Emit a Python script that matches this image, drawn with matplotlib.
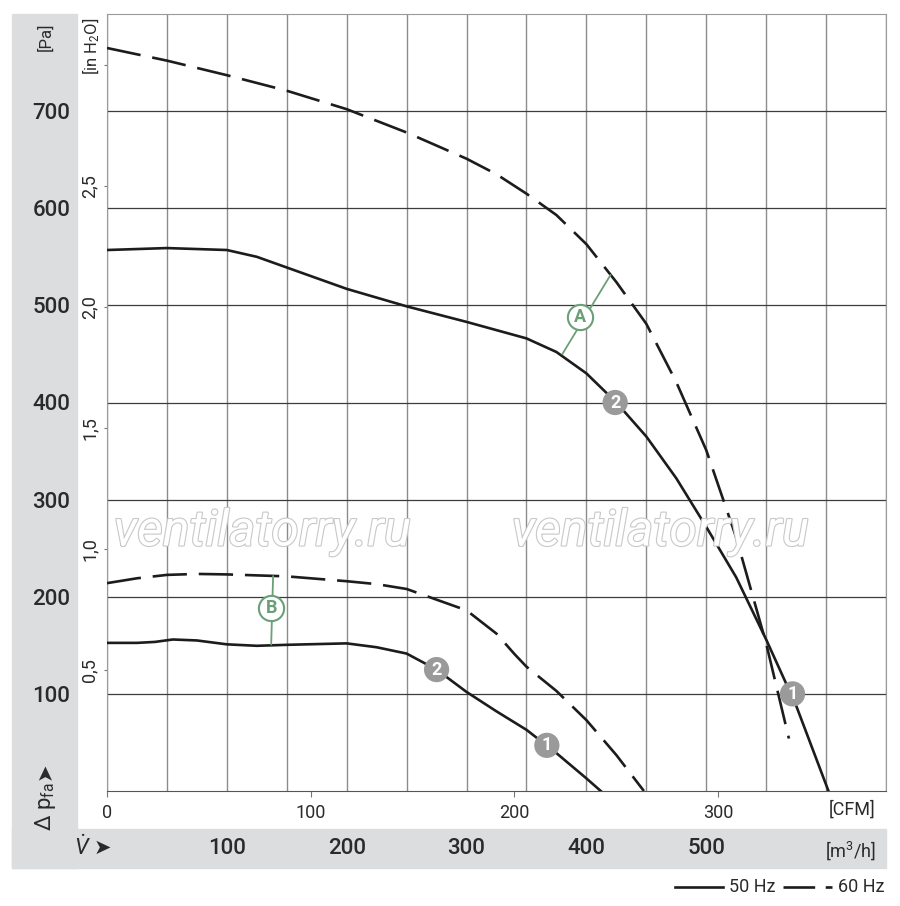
import numpy as np
import matplotlib
matplotlib.use("Agg")
import matplotlib.pyplot as plt
from matplotlib.lines import Line2D
from matplotlib.patches import Rectangle
import matplotlib.patheffects as pe
from matplotlib import font_manager

# --- fan curves: flow [m3/h], pressure [Pa] ---
hi_50_flow = [0, 50, 100, 125, 150, 200, 250, 300, 350, 375, 400, 425, 450, 475, 500, 525, 550, 575, 602]
hi_50_pa = [557, 559, 557, 550, 539, 517, 499, 483, 466, 452, 430, 400, 365, 322, 272, 220, 156, 88, 0]

hi_60_flow = [0, 50, 100, 150, 200, 250, 300, 325, 350, 375, 400, 425, 450, 475, 500, 525, 550, 569]
hi_60_pa = [765, 752, 737, 721, 702, 678, 651, 635, 615, 593, 563, 524, 481, 421, 351, 261, 152, 54]

lo_50_flow = [0, 25, 40, 55, 75, 100, 125, 150, 200, 225, 250, 275, 300, 325, 350, 375, 400, 412]
lo_50_pa = [152.5, 152.5, 153.5, 156, 155, 151, 149.5, 150.5, 152, 148, 141.5, 125, 102, 82, 63, 39, 13, 0]

lo_60_flow = [0, 25, 50, 75, 100, 150, 200, 225, 250, 275, 300, 325, 340, 350, 375, 400, 425, 448]
lo_60_pa = [214, 219, 222.5, 223.5, 223, 221, 216, 213, 208, 197, 186, 162, 141, 128, 103, 73, 37, 0]

# numbered operating points (label, flow, pressure)
point_labels = ["2", "1", "2", "1"]
point_flow = [424, 572, 275, 367]
point_pa = [400, 100, 125, 47]

# letter callouts: label, circle centre, leader ends (flow, Pa)
callout_labels = ["A", "B"]
callout_flow = [395, 137]
callout_pa = [488, 188]
callout_top = [(420, 531), (138.6, 221)]
callout_bot = [(380, 450), (137, 151)]

grid_flow = np.arange(0, 651, 50)
grid_pa = np.arange(100, 800, 100)
pa_ticks = [100, 200, 300, 400, 500, 600, 700]
m3h_ticks = [100, 200, 300, 400, 500]
cfm_ticks = [0, 100, 200, 300]
inh2o_ticks = [0.5, 1.0, 1.5, 2.0, 2.5, 3.0]
inh2o_labels = ["0,5", "1,0", "1,5", "2,0", "2,5", ""]

PA_PER_INH2O = 249.09
M3H_PER_CFM = 1.699

available = {f.name for f in font_manager.fontManager.ttflist}
narrow = "Liberation Sans Narrow" if "Liberation Sans Narrow" in available else "Roboto"
plt.rcParams["font.family"] = [narrow, "DejaVu Sans"]
plt.rcParams["mathtext.fontset"] = "custom"
plt.rcParams["mathtext.rm"] = narrow
plt.rcParams["mathtext.it"] = narrow + ":italic"

INK = "#1c1c1c"
TXT = "#2a2a2a"
BAND = "#dcdddf"
GREEN = "#6a9f78"
MARK = "#9a9a9a"

W, H = 900, 906
fig = plt.figure(figsize=(W / 100, H / 100), dpi=100)


def fx(px):
    return px / W


def fy(py):
    return 1 - py / H


# grey L-shaped band behind the scales
fig.add_artist(Rectangle((fx(12), fy(868)), fx(65), (868 - 14) / H,
                         transform=fig.transFigure, color=BAND, zorder=0))
fig.add_artist(Rectangle((fx(12), fy(868)), fx(874), 39 / H,
                         transform=fig.transFigure, color=BAND, zorder=0))

ax = fig.add_axes([fx(107), fy(791), fx(779), (791 - 14) / H])
ax.set_xlim(0, 650)
ax.set_ylim(0, 800)

# grid: light verticals every 50 m3/h, darker horizontals every 100 Pa
for g in grid_flow:
    ax.axvline(g, color="#8c8c8c", lw=1.0, zorder=1)
for g in grid_pa:
    ax.axhline(g, color="#3c3c3c", lw=0.9, zorder=1)
for side in ["left", "right", "top"]:
    ax.spines[side].set_color("#9a9a9a")
ax.spines["bottom"].set_color("#555555")

# Pa labels in the grey strip
ax.set_yticks(pa_ticks)
ax.set_yticklabels([str(v) for v in pa_ticks], fontweight="medium")
ax.tick_params(axis="y", which="major", length=0, pad=26.5, labelsize=16, labelcolor=TXT)

# m3/h labels in the grey bottom strip
ax.set_xticks(m3h_ticks)
ax.set_xticklabels([str(v) for v in m3h_ticks], fontweight="medium")
ax.tick_params(axis="x", which="major", length=0, pad=34, labelsize=16, labelcolor=TXT)

# in H2O scale next to the plot
sec_y = ax.secondary_yaxis("left", functions=(lambda p: p / PA_PER_INH2O,
                                              lambda h: h * PA_PER_INH2O))
sec_y.set_yticks(inh2o_ticks)
sec_y.set_yticklabels(inh2o_labels, rotation=90, va="center")
sec_y.tick_params(length=2.5, width=0.8, color="#777777", pad=3.5, labelsize=13, labelcolor=TXT)
sec_y.spines["left"].set_visible(False)

# CFM scale under the plot
sec_x = ax.secondary_xaxis("bottom", functions=(lambda m: m / M3H_PER_CFM,
                                                lambda c: c * M3H_PER_CFM))
sec_x.set_xticks(cfm_ticks)
sec_x.set_xticklabels([str(v) for v in cfm_ticks])
sec_x.tick_params(length=4, width=0.8, color="#777777", pad=5, labelsize=13, labelcolor=TXT)
sec_x.spines["bottom"].set_visible(False)

# watermark (outlined text, white inside)
for xc in [262, 660]:
    fig.text(fx(xc), fy(532), "ventilatorry.ru", ha="center", va="center",
             fontsize=36, style="italic", color="white", zorder=1.5,
             path_effects=[pe.Stroke(linewidth=1.6, foreground="#c8c8c8"), pe.Normal()])

# curves
LW = 1.9
dash = (13, 4.5)
ax.plot(hi_50_flow, hi_50_pa, color=INK, lw=LW, zorder=3)
ax.plot(hi_60_flow, hi_60_pa, color=INK, lw=LW, dashes=dash, zorder=3)
ax.plot(lo_50_flow, lo_50_pa, color=INK, lw=LW, zorder=3)
ax.plot(lo_60_flow, lo_60_pa, color=INK, lw=LW, dashes=dash, zorder=3)

# numbered grey markers
ax.scatter(point_flow, point_pa, s=330, color=MARK, edgecolors="none", zorder=5)
for lab, x, y in zip(point_labels, point_flow, point_pa):
    ax.text(x, y, lab, ha="center", va="center", color="white", fontsize=13,
            fontweight="bold", zorder=6)

# green letter callouts
for lab, x, y, top, bot in zip(callout_labels, callout_flow, callout_pa, callout_top, callout_bot):
    ax.plot([bot[0], top[0]], [bot[1], top[1]], color=GREEN, lw=1.3, zorder=4)
    ax.scatter([x], [y], s=330, facecolor="white", edgecolor=GREEN, linewidths=1.5, zorder=5)
    ax.text(x, y, lab, ha="center", va="center", color=GREEN, fontsize=13,
            fontweight="bold", zorder=6)

# axis captions
arrow_font = ["DejaVu Sans"]
fig.text(fx(45), fy(37), "[Pa]", rotation=90, ha="center", va="center", fontsize=12, color=TXT)
fig.text(fx(91), fy(46), "[in H$_2$O]", rotation=90, ha="center", va="center", fontsize=12, color=TXT)
fig.text(fx(45), fy(807), "$\\Delta$ p$_{\\mathrm{fa}}$", rotation=90, ha="center", va="center",
         fontsize=16, color=TXT)
fig.text(fx(45), fy(771), "\u27a4", rotation=90, ha="center", va="center",
         fontsize=15, color=TXT, family=arrow_font)
fig.text(fx(82), fy(848), "$\\dot{V}$", ha="center", va="center", fontsize=16, color=TXT)
fig.text(fx(102), fy(848), "\u27a4", ha="center", va="center", fontsize=15, color=TXT,
         family=arrow_font)
fig.text(fx(876), fy(810), "[CFM]", ha="right", va="center", fontsize=13, color=TXT)
fig.text(fx(876), fy(851), "[m$^3$/h]", ha="right", va="center", fontsize=13, color=TXT)

# legend
fig.add_artist(Line2D([fx(675), fx(723)], [fy(887), fy(887)], color=INK, lw=LW,
                      transform=fig.transFigure))
fig.text(fx(729), fy(887), "50 Hz", ha="left", va="center", fontsize=13, color=TXT)
fig.add_artist(Line2D([fx(783), fx(832)], [fy(887), fy(887)], color=INK, lw=LW,
                      dashes=(12, 4), transform=fig.transFigure))
fig.text(fx(838), fy(887), "60 Hz", ha="left", va="center", fontsize=13, color=TXT)

fig.savefig("out.png", dpi=100)
